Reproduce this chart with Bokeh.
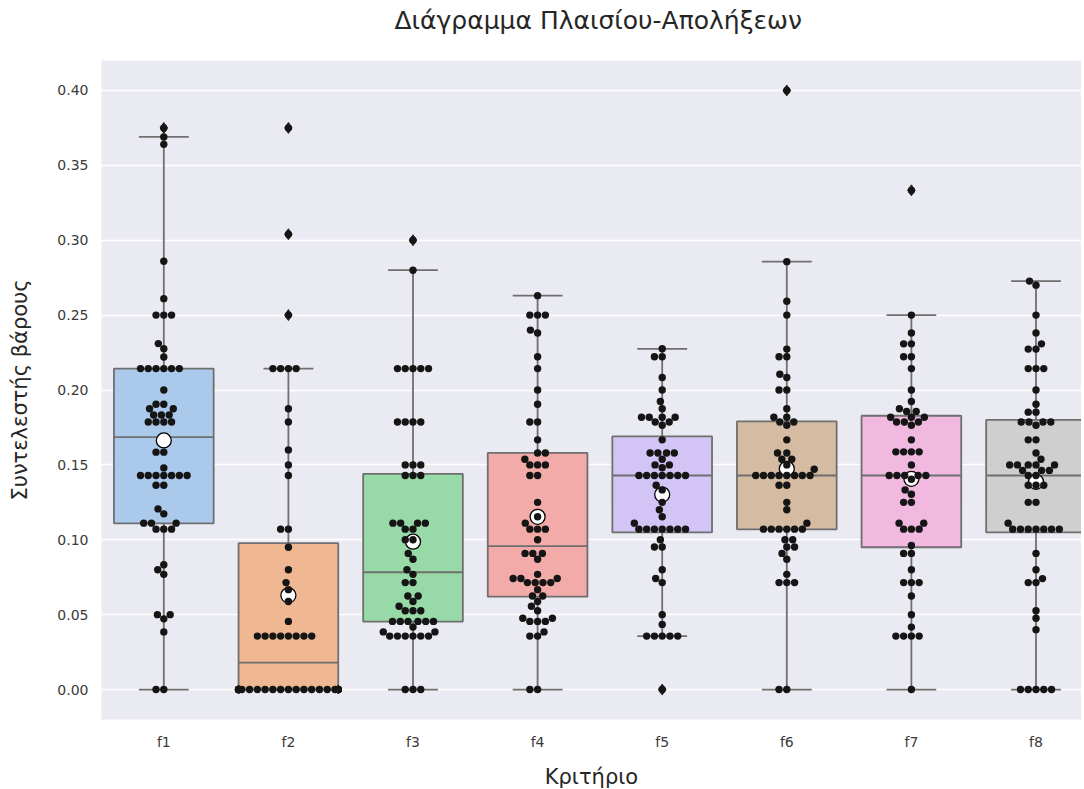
import colorsys
import numpy as np
from bokeh.plotting import figure
from bokeh.models import FixedTicker, Range1d, PrintfTickFormatter, Title
from bokeh.embed import file_html
from bokeh.resources import INLINE

# ---------------- data ----------------
title_text = "Διάγραμμα Πλαισίου-Απολήξεων"
categories = ["f1", "f2", "f3", "f4", "f5", "f6", "f7", "f8"]

f1 = [0.375, 0.369, 0.364, 0.286, 0.261, 0.25, 0.25, 0.25, 0.231, 0.2275, 0.222,
      0.2143, 0.2143, 0.2143, 0.2143, 0.2143, 0.2143, 0.2,
      0.1905, 0.1905, 0.1875, 0.1875, 0.1833, 0.1833, 0.1833,
      0.1786, 0.1786, 0.1786, 0.1786, 0.1585, 0.1585, 0.148,
      0.1429, 0.1429, 0.1429, 0.1429, 0.1429, 0.1429, 0.1429,
      0.1364, 0.1364, 0.1206, 0.1173, 0.1111, 0.1111, 0.1111,
      0.1071, 0.1071, 0.1071, 0.0833, 0.08, 0.0769, 0.05, 0.05, 0.0472, 0.0385, 0.0, 0.0]

f2 = [0.375, 0.304, 0.25, 0.2143, 0.2143, 0.2143, 0.2143, 0.1875, 0.1786, 0.16, 0.15,
      0.1429, 0.1071, 0.1071, 0.095, 0.08, 0.0714, 0.0667, 0.0588, 0.0455,
      0.0357, 0.0357, 0.0357, 0.0357, 0.0357, 0.0357, 0.0357, 0.0357,
      0.0, 0.0, 0.0, 0.0, 0.0, 0.0, 0.0, 0.0, 0.0, 0.0, 0.0, 0.0, 0.0, 0.0,
      0.0, 0.0, 0.0, 0.0, 0.0, 0.0, 0.0, 0.0, 0.0, 0.0, 0.0, 0.0, 0.0, 0.0]

f3 = [0.30, 0.28, 0.2143, 0.2143, 0.2143, 0.2143, 0.2143, 0.1786, 0.1786, 0.1786, 0.1786,
      0.15, 0.15, 0.15, 0.1429, 0.1429, 0.1429, 0.1111, 0.1111, 0.1111, 0.1111,
      0.1071, 0.1071, 0.1, 0.1, 0.0909, 0.087, 0.08, 0.0769, 0.0714, 0.0714,
      0.0625, 0.0625, 0.0588, 0.0556, 0.0526, 0.0526, 0.0526,
      0.0455, 0.0455, 0.0455, 0.0455, 0.0455, 0.0455, 0.0417, 0.0385, 0.0385,
      0.0357, 0.0357, 0.0357, 0.0357, 0.0357, 0.0357, 0.0, 0.0, 0.0]

f4 = [0.263, 0.25, 0.25, 0.25, 0.24, 0.2381, 0.2222, 0.2143, 0.2, 0.1905, 0.1786, 0.1786,
      0.1667, 0.1579, 0.1579, 0.1538, 0.15, 0.15, 0.15, 0.1429, 0.1429, 0.125, 0.1154,
      0.1111, 0.1071, 0.1071, 0.1071, 0.1, 0.0909, 0.0909, 0.0909, 0.087, 0.0769,
      0.0741, 0.0741, 0.0741, 0.0714, 0.0714, 0.0714, 0.0714, 0.0667, 0.0625, 0.0625,
      0.0588, 0.0556, 0.0526, 0.0476, 0.0455, 0.0455, 0.0455, 0.0476,
      0.0357, 0.0357, 0.0385, 0.0, 0.0]

f5 = [0.2275, 0.2222, 0.2222, 0.2083, 0.2, 0.1923, 0.1875, 0.1818, 0.1818, 0.1818, 0.1818,
      0.1786, 0.1786, 0.1765, 0.1667, 0.1579, 0.1579, 0.1579, 0.1579, 0.1538, 0.15, 0.15,
      0.1481, 0.1429, 0.1429, 0.1429, 0.1429, 0.1429, 0.1429, 0.1429, 0.1364, 0.1333,
      0.125, 0.12, 0.1154, 0.1111, 0.1071, 0.1071, 0.1071, 0.1071, 0.1071, 0.1071, 0.1071,
      0.1, 0.0952, 0.0952, 0.08, 0.0741, 0.0714, 0.05, 0.0435,
      0.0357, 0.0357, 0.0357, 0.0357, 0.0357, 0.0]

f6 = [0.40, 0.2857, 0.2593, 0.25, 0.2273, 0.2222, 0.2222, 0.2105, 0.2083, 0.2, 0.2,
      0.1875, 0.1818, 0.1818, 0.1786, 0.1786, 0.1765, 0.1667, 0.1579, 0.1579,
      0.1538, 0.1538, 0.15, 0.1471, 0.1429, 0.1429, 0.1429, 0.1429, 0.1429, 0.1429,
      0.1429, 0.1429, 0.1364, 0.1364, 0.125, 0.12, 0.1111,
      0.1071, 0.1071, 0.1071, 0.1071, 0.1071, 0.1071, 0.1, 0.1, 0.0952, 0.0952,
      0.0909, 0.087, 0.0769, 0.0714, 0.0714, 0.0714, 0.0, 0.0]

f7 = [0.3333, 0.25, 0.2381, 0.2308, 0.2308, 0.2222, 0.2222, 0.2143, 0.2, 0.1923, 0.1875,
      0.1857, 0.1857, 0.1818, 0.1818, 0.1818, 0.1786, 0.1786, 0.1786, 0.1765, 0.1667,
      0.1587, 0.1587, 0.1587, 0.1587, 0.15, 0.1429, 0.1429, 0.1429, 0.1429, 0.1429,
      0.1404, 0.1333, 0.1304, 0.125, 0.125, 0.1111, 0.1111, 0.1071, 0.1071, 0.1071,
      0.0962, 0.0909, 0.0909, 0.08, 0.0714, 0.0714, 0.0714, 0.0625, 0.05, 0.0417,
      0.0357, 0.0357, 0.0357, 0.0357, 0.0]

f8 = [0.2727, 0.27, 0.25, 0.2381, 0.2308, 0.2273, 0.2273, 0.2143, 0.2143, 0.2143, 0.2,
      0.1905, 0.1852, 0.1852, 0.1786, 0.1786, 0.1786, 0.1786, 0.1765, 0.1667, 0.1667,
      0.1579, 0.1538, 0.15, 0.15, 0.15, 0.15, 0.15, 0.1463, 0.1463, 0.1463,
      0.1429, 0.1429, 0.1364, 0.1364, 0.1364, 0.125, 0.125, 0.1111,
      0.1071, 0.1071, 0.1071, 0.1071, 0.1071, 0.1071, 0.1071,
      0.0909, 0.08, 0.0741, 0.0714, 0.0714, 0.0526, 0.0476, 0.04,
      0.0, 0.0, 0.0, 0.0, 0.0]

series = [f1, f2, f3, f4, f5, f6, f7, f8]

# box statistics as drawn in the reference
q1 = [0.111, 0.0, 0.0454, 0.062, 0.105, 0.107, 0.095, 0.105]
median = [0.1685, 0.018, 0.0783, 0.0957, 0.1429, 0.1429, 0.1429, 0.1429]
q3 = [0.2143, 0.0977, 0.144, 0.158, 0.169, 0.179, 0.1828, 0.18]
whisker_low = [0.0, 0.0, 0.0, 0.0, 0.0357, 0.0, 0.0, 0.0]
whisker_high = [0.369, 0.2143, 0.28, 0.263, 0.2275, 0.2857, 0.25, 0.2727]
means = [0.1663, 0.0629, 0.0987, 0.1153, 0.1302, 0.1474, 0.1407, 0.1387]

y_ticks = [0.0, 0.05, 0.10, 0.15, 0.20, 0.25, 0.30, 0.35, 0.40]

# ---------------- style / layout ----------------
pastel = ["#a1c9f4", "#ffb482", "#8de5a1", "#ff9f9b", "#d0bbff", "#debb9b", "#fab0e4", "#cfcfcf"]


def desaturate(hexc, prop=0.75):
    r, g, b = (int(hexc[i:i + 2], 16) / 255 for i in (1, 3, 5))
    h, l, s = colorsys.rgb_to_hls(r, g, b)
    r, g, b = colorsys.hls_to_rgb(h, l, s * prop)
    return "#%02x%02x%02x" % (round(r * 255), round(g * 255), round(b * 255))


box_colors = [desaturate(c) for c in pastel]
GRAY = "#6f6f6f"
FONT = "DejaVu Sans"

FRAME_W, FRAME_H = 980, 659
PX_PER_X = 124.6
X_START = -0.5
X_END = X_START + FRAME_W / PX_PER_X
Y_START, Y_END = -0.02, 0.42
PX_PER_Y = FRAME_H / (Y_END - Y_START)
R = 3.7  # swarm dot radius in px


def swarm_offsets(values, r, px_per_y, half_w):
    vals = np.asarray(values, dtype=float)
    order = np.argsort(vals, kind="stable")
    ys = vals[order] * px_per_y
    placed = []
    for y in ys:
        neigh = [(xj, yj) for (xj, yj) in placed if (y - yj) < 2 * r]
        cands = [0.0]
        left_first = True
        for xj, yj in neigh:
            dy = y - yj
            dx = np.sqrt(max((2 * r) ** 2 - dy ** 2, 0.0)) * 1.05
            if left_first:
                cands += [xj - dx, xj + dx]
            else:
                cands += [xj + dx, xj - dx]
            left_first = not left_first
        cands = sorted(cands, key=abs)
        chosen = cands[0]
        for c in cands:
            if all((xj - c) ** 2 + (yj - y) ** 2 >= (2 * r) ** 2 - 1e-9 for xj, yj in neigh):
                chosen = c
                break
        placed.append((chosen, y))
    out = np.empty(len(vals))
    for k, idx in enumerate(order):
        out[idx] = np.clip(placed[k][0], -half_w, half_w)
    return out


p = figure(frame_width=FRAME_W, frame_height=FRAME_H,
           x_range=Range1d(X_START, X_END), y_range=Range1d(Y_START, Y_END),
           output_backend="svg", toolbar_location=None,
           min_border_left=101, min_border_right=0, min_border_top=60, min_border_bottom=62,
           background_fill_color="#eaeaf2", border_fill_color="white")
p.outline_line_color = None

# title (outermost) plus an invisible spacer between title and frame
p.title.text = title_text
p.title.align = "left"
p.title.offset = 293
p.title.vertical_align = "bottom"
p.title.standoff = 0
p.title.text_font = FONT
p.title.text_font_size = "25px"
p.title.text_font_style = "normal"
p.title.text_color = "#262626"
p.add_layout(Title(text=" ", text_font_size="10px", standoff=13), "above")

xs = list(range(len(categories)))

# boxes
p.quad(left=[x - 0.4 for x in xs], right=[x + 0.4 for x in xs], bottom=q1, top=q3,
       fill_color=box_colors, line_color=GRAY, line_width=1.8)
# whiskers
p.segment(x0=xs, y0=q3, x1=xs, y1=whisker_high, line_color=GRAY, line_width=1.8)
p.segment(x0=xs, y0=q1, x1=xs, y1=whisker_low, line_color=GRAY, line_width=1.8)
# caps
p.segment(x0=[x - 0.2 for x in xs], y0=whisker_high, x1=[x + 0.2 for x in xs], y1=whisker_high,
          line_color=GRAY, line_width=1.8)
p.segment(x0=[x - 0.2 for x in xs], y0=whisker_low, x1=[x + 0.2 for x in xs], y1=whisker_low,
          line_color=GRAY, line_width=1.8)
# medians
p.segment(x0=[x - 0.4 for x in xs], y0=median, x1=[x + 0.4 for x in xs], y1=median,
          line_color=GRAY, line_width=1.8)

# fliers
fx, fy = [], []
for i, vals in enumerate(series):
    for v in vals:
        if v > whisker_high[i] + 1e-9 or v < whisker_low[i] - 1e-9:
            fx.append(i)
            fy.append(v)
p.scatter(fx, fy, marker="diamond", size=11, fill_color="#262626", line_color="#262626")

# means
p.scatter(xs, means, size=15, fill_color="white", line_color="black", line_width=1.3)

# swarm
sx, sy = [], []
half_w = 0.4 * PX_PER_X
for i, vals in enumerate(series):
    offs = swarm_offsets(vals, R, PX_PER_Y, half_w)
    sx.extend(i + offs / PX_PER_X)
    sy.extend(vals)
p.scatter(sx, sy, size=2 * R, fill_color="#151515", line_color=None)

# axes & grid
p.xgrid.visible = False
p.ygrid.grid_line_color = "white"
p.ygrid.grid_line_width = 1.3
p.ygrid.ticker = FixedTicker(ticks=y_ticks)

p.xaxis.ticker = FixedTicker(ticks=xs)
p.xaxis.major_label_overrides = {i: c for i, c in enumerate(categories)}
p.yaxis.ticker = FixedTicker(ticks=y_ticks)
p.yaxis.formatter = PrintfTickFormatter(format="%.2f")

for ax in (p.xaxis[0], p.yaxis[0]):
    ax.axis_line_color = None
    ax.major_tick_line_color = None
    ax.minor_tick_line_color = None
    ax.major_tick_out = 0
    ax.major_tick_in = 0
    ax.minor_tick_out = 0
    ax.minor_tick_in = 0
    ax.major_label_text_font = FONT
    ax.major_label_text_font_size = "14px"
    ax.major_label_text_color = "#3a3a3a"
    ax.axis_label_text_font = FONT
    ax.axis_label_text_font_size = "21px"
    ax.axis_label_text_font_style = "normal"
    ax.axis_label_text_color = "#262626"

p.xaxis.axis_label = "Κριτήριο"
p.yaxis.axis_label = "Συντελεστής βάρους"
p.xaxis.major_label_standoff = 14
p.yaxis.major_label_standoff = 13
p.xaxis.axis_label_standoff = 12
p.yaxis.axis_label_standoff = 22

open("out.html", "w").write(file_html(p, INLINE))
